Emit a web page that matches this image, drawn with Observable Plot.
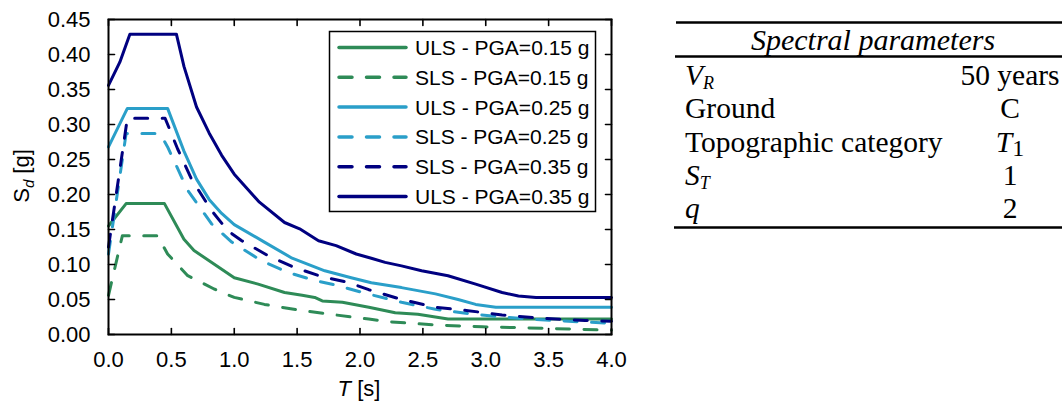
<!DOCTYPE html>
<html><head><meta charset="utf-8">
<script src="https://cdn.jsdelivr.net/npm/d3@7"></script>
<script src="https://cdn.jsdelivr.net/npm/@observablehq/plot@0.6"></script>
<style>
html,body{margin:0;padding:0;background:#fff}
body{width:1062px;height:403px;overflow:hidden;position:relative}
#chart{position:absolute;left:0;top:0}
#table{position:absolute;left:640px;top:0}
</style></head>
<body>
<div id="chart"></div>
<div id="table"></div>
<script>
// ---- data (T [s], Sd [g]) ----
const seriesNames = ["ULS - PGA=0.15 g","SLS - PGA=0.15 g","ULS - PGA=0.25 g","SLS - PGA=0.25 g","SLS - PGA=0.35 g","ULS - PGA=0.35 g"];
const seriesColors = ["#2e8b57","#2e8b57","#2a9fc9","#2a9fc9","#000080","#000080"];
const seriesDashed = [false,true,false,true,true,false];

const T_uls015 = [0,0.14,0.445,0.6,0.68,1.0,1.19,1.4,1.54,1.64,1.7,1.86,2.07,2.28,2.46,2.7,4.0];
const V_uls015 = [0.155,0.187,0.187,0.136,0.120,0.081,0.072,0.060,0.056,0.053,0.048,0.046,0.039,0.031,0.029,0.022,0.022];

const T_sls015 = [0,0.11,0.39,0.47,0.63,0.84,1.0,1.24,1.51,1.72,1.93,2.07,2.25,2.6,2.97,3.45,4.0];
const V_sls015 = [0.056,0.141,0.141,0.115,0.084,0.065,0.053,0.043,0.035,0.030,0.025,0.022,0.018,0.0136,0.011,0.009,0.006];

const T_uls025 = [0,0.15,0.47,0.6,0.7,0.8,0.9,1.0,1.24,1.46,1.72,1.93,2.09,2.33,2.6,2.78,2.92,3.08,4.0];
const V_uls025 = [0.268,0.323,0.323,0.262,0.222,0.193,0.173,0.157,0.132,0.109,0.091,0.081,0.074,0.067,0.058,0.050,0.043,0.039,0.039];

const T_sls025 = [0,0.14,0.41,0.47,0.63,0.82,0.98,1.22,1.43,1.64,1.8,2.04,2.33,2.6,2.86,3.13,3.53,4.0];
const V_sls025 = [0.115,0.287,0.287,0.268,0.206,0.158,0.132,0.105,0.0886,0.077,0.071,0.059,0.046,0.036,0.030,0.025,0.020,0.016];

const T_sls035 = [0,0.15,0.45,0.55,0.66,0.82,0.95,1.06,1.27,1.48,1.7,1.91,2.07,2.33,2.6,2.86,3.13,3.45,3.79,4.0];
const V_sls035 = [0.125,0.309,0.309,0.265,0.222,0.177,0.148,0.134,0.1125,0.0957,0.0824,0.0743,0.064,0.050,0.039,0.034,0.028,0.023,0.020,0.019];

const T_uls035 = [0,0.09,0.17,0.54,0.6,0.7,0.8,0.9,1.0,1.2,1.4,1.52,1.67,1.81,1.97,2.09,2.2,2.33,2.49,2.7,2.92,3.13,3.26,3.4,4.0];
const V_uls035 = [0.356,0.389,0.429,0.429,0.383,0.325,0.288,0.256,0.229,0.189,0.160,0.151,0.134,0.127,0.115,0.109,0.103,0.098,0.091,0.084,0.072,0.060,0.055,0.053,0.053];

const xTicks = [0,0.5,1.0,1.5,2.0,2.5,3.0,3.5,4.0];
const yTicks = [0,0.05,0.10,0.15,0.20,0.25,0.30,0.35,0.40,0.45];

const tableTitle = "Spectral parameters";
const tableLabels = ["V_R","Ground","Topographic category","S_T","q"];
const tableValues = ["50 years","C","T_1","1","2"];

// ---- build ----
const seriesT = [T_uls015,T_sls015,T_uls025,T_sls025,T_sls035,T_uls035];
const seriesV = [V_uls015,V_sls015,V_uls025,V_sls025,V_sls035,V_uls035];
const series = seriesNames.map((name,i)=>({
  name, color: seriesColors[i], dashed: seriesDashed[i],
  data: seriesT[i].map((t,j)=>({T:t, v:seriesV[i][j]}))
}));

const DASH = "13,14.5";
const tickShape = {draw(context, l){ context.moveTo(0,0); context.lineTo(0,-l); }};
const tickOpts = {stroke:"#000", strokeWidth:1.6, length:6, anchor:"start", shape:tickShape};

const chart = Plot.plot({
  width: 640, height: 403,
  marginLeft: 108, marginRight: 29, marginTop: 19, marginBottom: 69,
  style: {fontFamily: "'Liberation Sans', Arial, sans-serif", fontSize: "22px", color: "#000", background: "transparent", overflow: "visible"},
  x: {domain: [0,4]},
  y: {domain: [0,0.45]},
  marks: [
    ...series.map(s => Plot.line(s.data, {x:"T", y:"v", stroke:s.color, strokeWidth:3,
        strokeDasharray: s.dashed ? DASH : null, strokeLinecap: "round", strokeLinejoin: "round"})),
    Plot.frame({stroke:"#000", strokeWidth:2}),
    Plot.axisX({ticks: xTicks, tickSize: 0, tickPadding: 17, tickFormat: d3.format(".1f"), label: null, fill:"#000"}),
    Plot.axisY({ticks: yTicks, tickSize: 0, tickPadding: 18, tickFormat: d3.format(".2f"), label: null, fill:"#000"}),
    Plot.vector(xTicks, {...tickOpts, x: d=>d, y: () => 0, rotate: 0}),
    Plot.vector(xTicks, {...tickOpts, x: d=>d, y: () => 0.45, rotate: 180}),
    Plot.vector(yTicks, {...tickOpts, y: d=>d, x: () => 0, rotate: 90}),
    Plot.vector(yTicks, {...tickOpts, y: d=>d, x: () => 4, rotate: -90})
  ]
});
document.getElementById("chart").appendChild(chart);

const svg = d3.select(chart);
const font = "'Liberation Sans', Arial, sans-serif";
// axis labels
const xl = svg.append("text").attr("x", 359).attr("y", 396).attr("text-anchor","middle")
  .attr("font-family", font).attr("font-size", 22).attr("fill","#000");
xl.append("tspan").attr("font-style","italic").text("T");
xl.append("tspan").text(" [s]");
const yl = svg.append("text").attr("transform","translate(29,176) rotate(-90)").attr("text-anchor","middle")
  .attr("font-family", font).attr("font-size", 22).attr("fill","#000");
yl.append("tspan").text("S");
yl.append("tspan").attr("font-style","italic").attr("font-size",15).attr("dy",5).text("d");
yl.append("tspan").attr("dy",-5).text(" [g]");

// legend
const lg = svg.append("g").attr("text-anchor","start");
lg.append("rect").attr("x",329.5).attr("y",31.5).attr("width",266).attr("height",180)
  .attr("fill","#fff").attr("stroke","#000").attr("stroke-width",1.5);
series.forEach((s,i)=>{
  const cy = 47.5 + i*29.8;
  lg.append("line").attr("x1",339).attr("x2",406).attr("y1",cy).attr("y2",cy)
    .attr("stroke",s.color).attr("stroke-width",3.5).attr("stroke-linecap","round")
    .attr("stroke-dasharray", s.dashed ? DASH : null);
  lg.append("text").attr("x",415).attr("y",cy+7.5).attr("text-anchor","start").attr("font-family",font).attr("font-size",21)
    .attr("fill","#000").text(s.name);
});

// table
const tsvg = d3.select("#table").append("svg").attr("width",422).attr("height",403);
const serif = "'Liberation Serif', 'Times New Roman', serif";
tsvg.append("line").attr("x1",36).attr("x2",422).attr("y1",22.5).attr("y2",22.5).attr("stroke","#000").attr("stroke-width",2.5);
tsvg.append("line").attr("x1",35).attr("x2",422).attr("y1",56.5).attr("y2",56.5).attr("stroke","#000").attr("stroke-width",2.5);
tsvg.append("line").attr("x1",34).attr("x2",422).attr("y1",227.5).attr("y2",227.5).attr("stroke","#000").attr("stroke-width",2.5);
tsvg.append("text").attr("x",233).attr("y",50).attr("text-anchor","middle").attr("font-family",serif)
  .attr("font-size",30).attr("font-style","italic").attr("fill","#000").text(tableTitle);
function writeCell(t, str, italicMain, subItalic){
  const parts = str.split("_");
  if (parts.length === 1) { t.text(str); if (italicMain) t.attr("font-style","italic"); return; }
  t.append("tspan").attr("font-style","italic").text(parts[0]);
  t.append("tspan").attr("font-style", subItalic ? "italic" : "normal").attr("font-size", subItalic ? 18 : 24)
    .attr("dy", 4).text(parts[1]);
}
tableLabels.forEach((lab,i)=>{
  const y = 85 + i*33.3;
  const t = tsvg.append("text").attr("x",45).attr("y",y).attr("font-family",serif).attr("font-size",29.5).attr("fill","#000");
  writeCell(t, lab, lab === "q", true);
  const v = tsvg.append("text").attr("x",370).attr("y",y).attr("text-anchor","middle").attr("font-family",serif).attr("font-size",29.5).attr("fill","#000");
  writeCell(v, tableValues[i], false, false);
});
</script>
</body></html>
